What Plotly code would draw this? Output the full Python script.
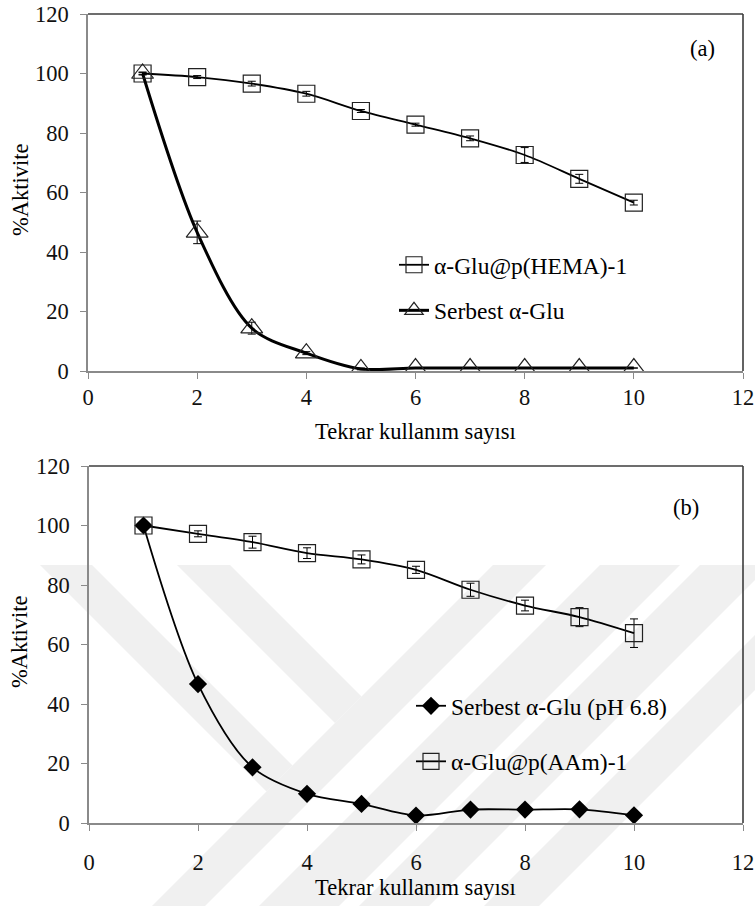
import plotly.graph_objects as go

# ---- data -------------------------------------------------------------
cycles = [1, 2, 3, 4, 5, 6, 7, 8, 9, 10]

# panel (a)
hema_act = [100, 98.8, 96.6, 93.2, 87.4, 82.8, 78.2, 72.6, 64.6, 56.6]
hema_err = [0.3, 0.5, 0.8, 0.8, 0.5, 0.5, 0.8, 2.5, 1.5, 0.8]
free_a_act = [100, 46.6, 14.4, 6.0, 0.7, 1.0, 1.0, 1.0, 1.0, 1.0]
free_a_err = [0.5, 3.8, 2.0, 0.5, 0.3, 0, 0, 0, 0, 0]

# panel (b)
free_b_act = [100, 46.7, 18.7, 9.8, 6.4, 2.5, 4.5, 4.5, 4.6, 2.6]
aam_act = [100, 97.2, 94.4, 90.7, 88.6, 85.1, 78.4, 73.1, 69.2, 63.8]
aam_err = [0.5, 1.0, 2.0, 1.8, 1.5, 1.2, 2.2, 1.8, 3.2, 4.8]

x_ticks = [0, 2, 4, 6, 8, 10, 12]
y_ticks = [0, 20, 40, 60, 80, 100, 120]

x_title = "Tekrar kullanım sayısı"
y_title = "%Aktivite"

W, H = 755, 906
FONT = "Liberation Serif"


def px(x):
    return x / W


def py(y):
    return 1 - y / H


fig = go.Figure()

err_style = dict(type="data", visible=True, color="#000", thickness=1, width=4)

# panel (a)
fig.add_trace(go.Scatter(
    x=cycles, y=hema_act, name="α-Glu@p(HEMA)-1", mode="lines+markers",
    line=dict(color="#000", width=1.8, shape="spline", smoothing=0.9),
    marker=dict(symbol="square-open", size=17, color="#222", line=dict(width=1.2)),
    error_y=dict(array=hema_err, **err_style),
    xaxis="x", yaxis="y", legend="legend", legendgroup="a1",
))
fig.add_trace(go.Scatter(
    x=cycles, y=free_a_act, name="Serbest α-Glu", mode="lines+markers",
    line=dict(color="#000", width=3, shape="spline", smoothing=0.9),
    marker=dict(symbol="triangle-up-open", size=19, color="#222", line=dict(width=1.2)),
    error_y=dict(array=free_a_err, **err_style),
    xaxis="x", yaxis="y", legend="legend", legendgroup="a2",
))

# panel (b)
fig.add_trace(go.Scatter(
    x=cycles, y=free_b_act, name="Serbest α-Glu (pH 6.8)", mode="lines+markers",
    line=dict(color="#000", width=1.8, shape="spline", smoothing=0.9),
    marker=dict(symbol="diamond", size=14, color="#000"),
    xaxis="x2", yaxis="y2", legend="legend2", legendgroup="b1",
))
fig.add_trace(go.Scatter(
    x=cycles, y=aam_act, name="α-Glu@p(AAm)-1", mode="lines+markers",
    line=dict(color="#000", width=1.8, shape="spline", smoothing=0.9),
    marker=dict(symbol="square-open", size=17, color="#222", line=dict(width=1.2)),
    error_y=dict(array=aam_err, **err_style),
    xaxis="x2", yaxis="y2", legend="legend2", legendgroup="b2",
))

axis_common = dict(
    showgrid=False, zeroline=False, showline=True, linecolor="#8a8a8a", linewidth=1.6,
    ticks="outside", ticklen=6, tickwidth=1.3, tickcolor="#8a8a8a",
    tickfont=dict(family=FONT, size=22.5, color="#111"), automargin=False,
)

legend_font = dict(family=FONT, size=23.5, color="#000")

fig.update_layout(
    width=W, height=H,
    margin=dict(l=0, r=0, t=0, b=0, autoexpand=False),
    font=dict(family=FONT),
    paper_bgcolor="white", plot_bgcolor="rgba(0,0,0,0)",
    showlegend=True,
    xaxis=dict(domain=[px(88), px(743)], range=[0, 12], tickvals=x_ticks,
               anchor="y", ticklabelstandoff=-1, **axis_common),
    yaxis=dict(domain=[py(371), py(14)], range=[0, 120], tickvals=y_ticks,
               anchor="x", ticklabelstandoff=7, **axis_common),
    xaxis2=dict(domain=[px(89), px(743)], range=[0, 12], tickvals=x_ticks,
                anchor="y2", ticklabelstandoff=12, **axis_common),
    yaxis2=dict(domain=[py(823), py(466)], range=[0, 120], tickvals=y_ticks,
                anchor="x2", ticklabelstandoff=7, **axis_common),
    legend=dict(x=px(394), y=py(243), xanchor="left", yanchor="top",
                bgcolor="rgba(0,0,0,0)", font=legend_font,
                tracegroupgap=12, itemwidth=30),
    legend2=dict(x=px(411), y=py(684), xanchor="left", yanchor="top",
                 bgcolor="rgba(0,0,0,0)", font=legend_font,
                 tracegroupgap=22, itemwidth=30),
)

# dark top and right frame edges of each plot area
for xa, ya in (("x", "y"), ("x2", "y2")):
    fig.add_shape(type="line", xref=f"{xa} domain", yref=f"{ya} domain",
                  x0=0, x1=1, y0=1, y1=1, line=dict(color="#3c3c3c", width=1.6))
    fig.add_shape(type="line", xref=f"{xa} domain", yref=f"{ya} domain",
                  x0=1, x1=1, y0=0, y1=1, line=dict(color="#3c3c3c", width=1.6))

# faint diagonal watermark stripes behind the lower panel
stripes = [
    [(40, 565), (92, 565), (292.5, 765.5), (266.5, 791.5)],
    [(177, 565), (230, 565), (361.5, 696.5), (335, 723)],
    [(493, 565), (546, 565), (205, 906), (152, 906)],
    [(600, 565), (680, 565), (339, 906), (259, 906)],
    [(700, 565), (755, 565), (755, 580), (429, 906), (359, 906)],
    [(755, 635), (755, 690), (539, 906), (484, 906)],
]
for poly in stripes:
    path = "M " + " L ".join(f"{px(x):.5f},{py(y):.5f}" for x, y in poly) + " Z"
    fig.add_shape(type="path", xref="paper", yref="paper", path=path,
                  fillcolor="#f0f0f0", line=dict(width=0), layer="below")

# axis titles and panel labels
ann_font = dict(family=FONT, size=22.5, color="#000")
for cx, cy in ((415, 431), (415, 887)):
    fig.add_annotation(x=px(cx), y=py(cy), xref="paper", yref="paper", text=x_title,
                       showarrow=False, font=ann_font, xanchor="center", yanchor="middle")
for cx, cy in ((21, 190), (19, 642)):
    fig.add_annotation(x=px(cx), y=py(cy), xref="paper", yref="paper", text=y_title,
                       showarrow=False, font=ann_font, textangle=-90,
                       xanchor="center", yanchor="middle")
fig.add_annotation(x=px(702), y=py(49), xref="paper", yref="paper", text="(a)",
                   showarrow=False, font=ann_font, xanchor="center", yanchor="middle")
fig.add_annotation(x=px(686), y=py(507), xref="paper", yref="paper", text="(b)",
                   showarrow=False, font=ann_font, xanchor="center", yanchor="middle")

fig.write_html("out.html")
